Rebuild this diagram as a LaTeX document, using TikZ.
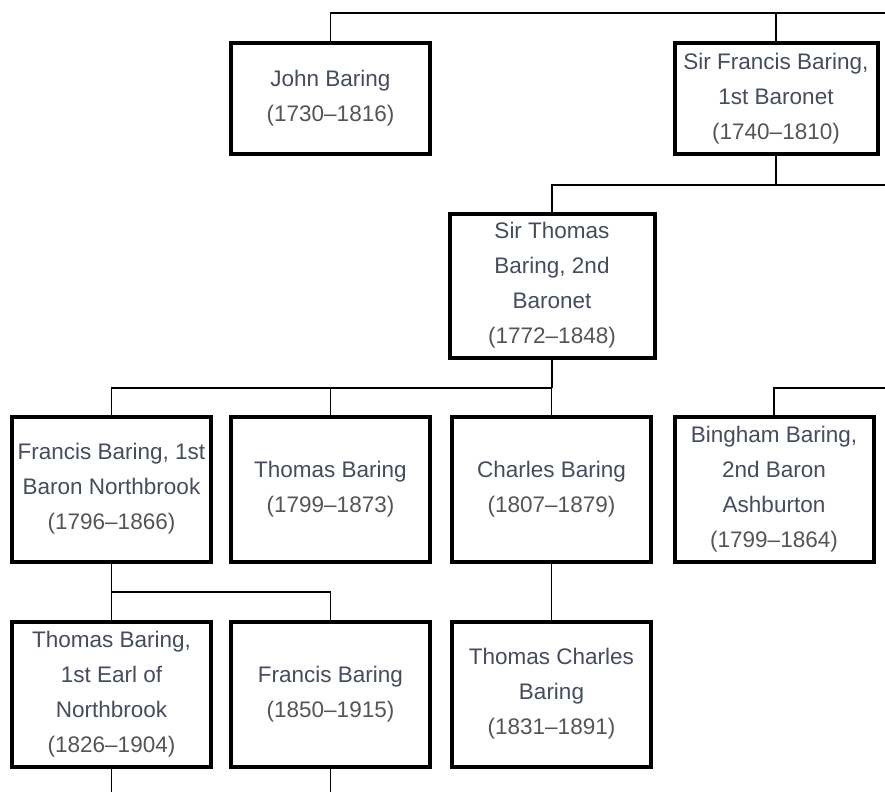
\documentclass[tikz,border=0pt]{standalone}
\usepackage{fontspec}
\setmainfont{Liberation Sans}
\definecolor{namec}{HTML}{454C5E}
\definecolor{yearc}{HTML}{555555}
\begin{document}
\begin{tikzpicture}[x=1pt,y=-1pt,
  person/.style={draw=black, line width=4pt, rectangle, minimum width=199pt, align=center,
    font=\fontsize{22.5}{35}\selectfont, text=namec, inner sep=0pt},
  link/.style={draw=black, line width=1.6pt}]
\useasboundingbox (0,0) rectangle (885,792);
\fill[white] (0,0) rectangle (885,792);
% row 1
\node[person, minimum height=110pt] (john) at (330.5,98.5) {John Baring\\\textcolor{yearc}{(1730--1816)}};
\node[person, minimum width=203pt, minimum height=110pt] (sirf) at (776,98.5) {Sir Francis Baring,\\1st Baronet\\\textcolor{yearc}{(1740--1810)}};
% row 2
\node[person, minimum width=205pt, minimum height=144pt] (sirt) at (552,285.5) {Sir Thomas\\Baring, 2nd\\Baronet\\\textcolor{yearc}{(1772--1848)}};
% row 3
\node[person, minimum height=145pt] (fran) at (111.5,489) {Francis Baring, 1st\\Baron Northbrook\\\textcolor{yearc}{(1796--1866)}};
\node[person, minimum height=145pt] (thom) at (330.5,489) {Thomas Baring\\\textcolor{yearc}{(1799--1873)}};
\node[person, minimum height=145pt] (charl) at (551.5,489) {Charles Baring\\\textcolor{yearc}{(1807--1879)}};
\node[person, minimum height=145pt] (bing) at (774,489) {Bingham Baring,\\2nd Baron\\Ashburton\\\textcolor{yearc}{(1799--1864)}};
% row 4
\node[person, minimum height=145pt] (earl) at (111.5,694) {Thomas Baring,\\1st Earl of\\Northbrook\\\textcolor{yearc}{(1826--1904)}};
\node[person, minimum height=145pt] (fb) at (330.5,694) {Francis Baring\\\textcolor{yearc}{(1850--1915)}};
\node[person, minimum height=145pt] (tcb) at (551.5,694) {Thomas Charles\\Baring\\\textcolor{yearc}{(1831--1891)}};
% free ends
\coordinate (topR) at (885,13);
\coordinate (midR) at (885,185);
\coordinate (r3R) at (885,388);
\coordinate (bot) at (0,792);
% connectors
\draw[link] (john.north) |- (topR);
\draw[link] (sirf.north) -- (sirf.north |- topR);
\draw[link] (sirf.south) -- (sirf.south |- midR);
\draw[link] (sirt.north) |- (midR);
\draw[link] (sirt.south) -- (sirt.south |- r3R);
\draw[link] (fran.north) |- (sirt.south |- r3R);
\draw[link] (thom.north) -- (thom.north |- r3R);
\draw[link] (charl.north) -- (charl.north |- r3R);
\draw[link] (bing.north) |- (r3R);
\coordinate (j4) at (0,592);
\draw[link] (fran.south) -- (earl.north);
\draw[link] (fran.south |- j4) -| (fb.north);
\draw[link] (charl.south) -- (tcb.north);
\draw[link] (earl.south) -- (earl.south |- bot);
\draw[link] (fb.south) -- (fb.south |- bot);
\end{tikzpicture}
\end{document}
